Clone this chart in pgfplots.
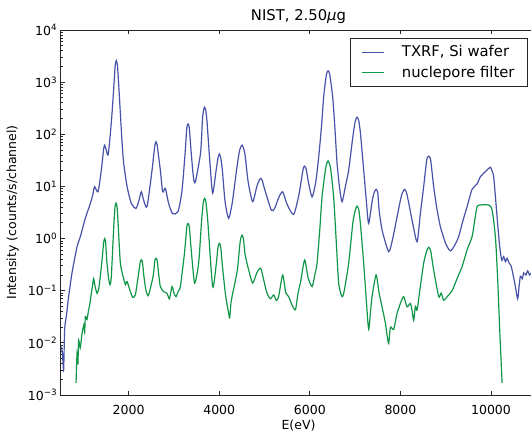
\documentclass[border=0pt]{standalone}
\usepackage{fontspec}
\setmainfont{DejaVu Sans}
\usepackage{pgfplots}
\pgfplotsset{compat=1.18}
\definecolor{txrf}{RGB}{72,82,168}
\definecolor{nucl}{RGB}{16,150,72}

\begin{document}
\begin{tikzpicture}
\begin{axis}[
  scale only axis,
  width=475.6pt, height=365pt,
  xmin=500, xmax=11000,
  ymode=log, ymin=1e-3, ymax=1e4,
  xtick={2000,4000,6000,8000,10000},
  scaled x ticks=false,
  ytick={1e-3,1e-2,1e-1,1,1e1,1e2,1e3,1e4},
  yticklabels={10\textsuperscript{−3},10\textsuperscript{−2},10\textsuperscript{−1},10\textsuperscript{0},10\textsuperscript{1},10\textsuperscript{2},10\textsuperscript{3},10\textsuperscript{4}},
  minor ytick={0.002,0.003,0.004,0.005,0.006,0.007,0.008,0.009,
    0.02,0.03,0.04,0.05,0.06,0.07,0.08,0.09,
    0.2,0.3,0.4,0.5,0.6,0.7,0.8,0.9,
    2,3,4,5,6,7,8,9,
    20,30,40,50,60,70,80,90,
    200,300,400,500,600,700,800,900,
    2000,3000,4000,5000,6000,7000,8000,9000},
  /pgf/number format/assume math mode=true,
  /pgf/number format/1000 sep={},
  tick align=inside,
  major tick length=4.5pt,
  minor tick length=2.5pt,
  tick style={black!85, line width=0.8pt},
  axis line style={black!85, line width=0.9pt},
  tick label style={font=\fontsize{12.5}{15}\selectfont},
  xticklabel style={anchor=base, yshift=-19pt},
  label style={font=\fontsize{12.5}{15}\selectfont},
  xlabel={E(eV)},
  ylabel={Intensity (counts/s/channel)},
  x label style={at={(axis description cs:0.5,0)}, anchor=base, yshift=-34pt},
  y label style={at={(axis description cs:-0.101,0.5)}, anchor=center},
  title={NIST, 2.50{\itshape μ}g},
  title style={at={(axis description cs:0.5,1)}, anchor=base, yshift=3.5pt, font=\fontsize{14.8}{17}\selectfont},
  legend style={at={(0.9825,0.9773)}, anchor=north east,
    draw=black!85, line width=0.9pt, fill=white,
    font=\fontsize{14.8}{17}\selectfont,
    inner xsep=11pt, inner ysep=5pt,
    row sep=4pt, column sep=15pt},
  legend cell align=left,
  legend image code/.code={\draw[#1,line width=1.2pt] (0pt,0pt) -- (22pt,0pt);},
]
\addplot[color=txrf, line width=1.2pt, smooth, tension=0.4] coordinates {
(514,0.0085) (540,0.006) (565,0.0030) (587,0.018) (630,0.035) (675,0.077) (750,0.22)
(861,0.70) (934,1.09) (1044,2.45) (1154,4.7) (1210,7.0) (1249,9.9)
(1324,7.9) (1397,20.6) (1448,52) (1470,62) (1505,50) (1545,40) (1590,90) (1633,252)
(1685,1200) (1705,2150) (1728,2580) (1751,2150) (1772,1200) (1817,252) (1855,70) (1890,28)
(1965,10) (2060,4.7) (2163,3.8) (2230,5.5) (2280,7.9) (2330,5.5) (2406,4.1)
(2517,20.6) (2560,45) (2580,62) (2605,72) (2630,62) (2650,45) (2700,20.6) (2751,7.9) (2810,9.2)
(2883,4.7) (2972,3.0) (3091,3.3) (3179,8.5) (3250,48) (3284,132) (3312,158) (3340,132) (3375,52)
(3430,15) (3473,12.3) (3588,44) (3628,185) (3652,285) (3678,330) (3704,285) (3728,185) (3760,75) (3795,28)
(3855,7.4) (3930,20) (3972,35) (4003,42) (4034,35) (4070,20) (4130,5) (4208,2.45) (4290,5)
(4380,20) (4440,45) (4472,56) (4504,62) (4536,54) (4570,40) (4640,12) (4738,5.1) (4830,10)
(4880,13) (4915,14.3) (4950,13) (5000,9) (5151,3.5) (5224,3.8) (5310,6) (5400,7.9) (5500,4.5)
(5643,2.9) (5760,7) (5850,21) (5886,24.5) (5922,21) (5970,12) (6049,6.3) (6130,12) (6196,37)
(6260,150) (6306,525) (6365,1380) (6403,1650) (6441,1380) (6504,525) (6550,150) (6601,28) (6660,9)
(6712,5.1) (6785,10) (6858,20.6) (6950,90) (7003,178) (7043,213) (7083,178) (7120,100) (7189,20.6)
(7250,5) (7299,1.95) (7380,5.5) (7425,7.8) (7463,8.8) (7501,7.5) (7530,3.5) (7595,1.46) (7741,0.56)
(7830,1.0) (7926,2.6) (8010,6) (8052,7.8) (8094,8.8) (8136,7.5) (8180,5) (8257,2.27) (8368,0.87)
(8440,3) (8514,10) (8580,32) (8624,38) (8668,32) (8734,10) (8800,4)
(8882,1.7) (9000,0.8) (9103,0.58) (9200,0.75) (9286,1.09) (9380,2.2)
(9472,4.1) (9582,8.8) (9693,11.2) (9766,15.4) (9876,19.2) (9986,23.3)
(10030,19) (10059,15.4) (10100,6) (10134,2.6) (10180,0.9) (10207,0.55)
(10240,0.38) (10280,0.45) (10320,0.36) (10355,0.42) (10400,0.34) (10443,0.3) (10500,0.18) (10538,0.12) (10589,0.07)
(10620,0.12) (10649,0.19) (10690,0.17) (10722,0.22) (10770,0.2) (10810,0.24) (10850,0.2) (10892,0.22) (11000,0.21)
};
\addlegendentry{TXRF, Si wafer}
\addplot[color=nucl, line width=1.2pt, smooth, tension=0.4] coordinates {
(839,0.0017) (861,0.0063) (880,0.004) (896,0.0113) (930,0.008) (971,0.015)
(1010,0.022) (1030,0.016) (1044,0.032) (1080,0.028) (1117,0.043) (1150,0.06) (1176,0.089)
(1200,0.12) (1227,0.17) (1260,0.12) (1302,0.089) (1340,0.11) (1375,0.19)
(1420,0.45) (1448,0.84) (1470,1.0) (1492,0.84) (1515,0.4) (1558,0.17) (1590,0.13) (1618,0.19) (1670,1.6)
(1699,4.0) (1722,4.8) (1745,4.0) (1770,1.8) (1817,0.34) (1890,0.17) (1930,0.13) (1965,0.15) (2038,0.096)
(2090,0.075) (2148,0.083) (2215,0.2) (2255,0.35) (2280,0.39) (2305,0.35) (2340,0.18) (2384,0.10)
(2430,0.08) (2479,0.11) (2545,0.2) (2579,0.38) (2605,0.42) (2631,0.38) (2665,0.2) (2700,0.12) (2773,0.096)
(2848,0.089) (2900,0.07) (2958,0.12) (3000,0.09) (3047,0.077) (3100,0.10)
(3142,0.12) (3230,0.5) (3284,1.65) (3312,1.95) (3340,1.65) (3390,0.5) (3457,0.14) (3546,0.34)
(3610,2.2) (3648,4.9) (3678,5.9) (3708,4.9) (3750,2.0) (3855,0.12) (3930,0.3) (3972,0.68) (4003,0.81)
(4034,0.68) (4070,0.3) (4135,0.089) (4180,0.05) (4208,0.037) (4230,0.03) (4260,0.06)
(4283,0.077) (4400,0.25) (4450,0.7) (4472,0.98) (4504,1.17) (4536,0.98) (4570,0.5) (4650,0.25)
(4738,0.14) (4830,0.22) (4915,0.27) (4990,0.15) (5056,0.089) (5130,0.07)
(5202,0.083) (5260,0.065) (5312,0.077) (5400,0.20) (5470,0.09) (5533,0.077)
(5600,0.055) (5681,0.043) (5740,0.09) (5791,0.14) (5886,0.39) (5960,0.18)
(6049,0.12) (6110,0.2) (6160,0.34) (6220,1.5) (6270,6.3) (6335,18) (6365,26)
(6403,31) (6441,26) (6465,20) (6526,6.3) (6580,1.0) (6637,0.14) (6712,0.077)
(6760,0.1) (6858,0.34) (6950,2.0) (7003,3.5) (7043,4.2) (7083,3.5) (7120,1.8) (7189,0.34)
(7250,0.06) (7299,0.018) (7340,0.04) (7374,0.077) (7463,0.20) (7530,0.09)
(7595,0.049) (7668,0.024) (7700,0.015) (7741,0.0098) (7780,0.02) (7851,0.018)
(7920,0.035) (7999,0.057) (8072,0.077) (8147,0.049) (8220,0.057) (8260,0.04)
(8293,0.027) (8330,0.05) (8368,0.043) (8440,0.12) (8514,0.34) (8580,0.58) (8624,0.68)
(8668,0.58) (8734,0.25) (8845,0.077) (8900,0.09) (8955,0.066) (9050,0.08) (9141,0.10)
(9250,0.17) (9362,0.29) (9470,0.6) (9582,1.09) (9640,2.2) (9693,4.1)
(9766,4.4) (9949,4.4) (10024,3.5) (10097,1.09) (10148,0.16) (10192,0.018)
(10245,0.0017)
};
\addlegendentry{nuclepore filter}
\end{axis}
\pgfresetboundingbox
\path[use as bounding box] (-60.7pt,-37pt) rectangle (470.3pt,395pt);
\end{tikzpicture}
\end{document}
